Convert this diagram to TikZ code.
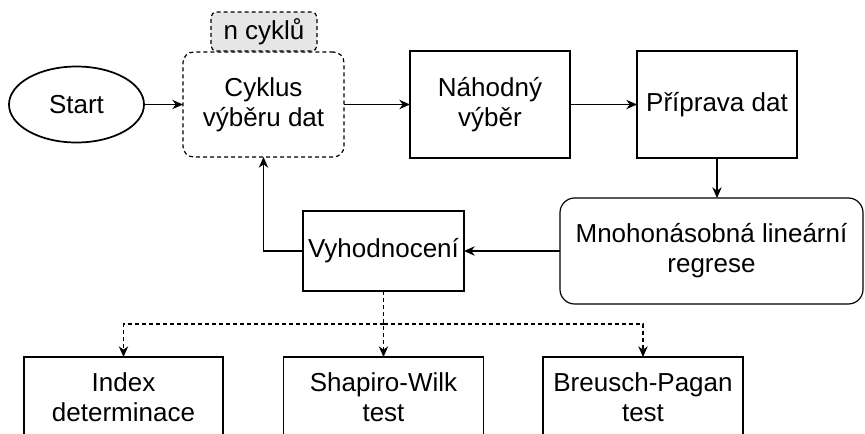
\documentclass[tikz,border=0pt]{standalone}
\usepackage{fontspec}
\setmainfont{Liberation Sans}
\usetikzlibrary{arrows.meta,shapes.geometric}

\tikzset{
  txt/.style={font=\fontsize{19.5}{22.5}\selectfont, align=center, inner sep=0pt, outer sep=0pt},
  box/.style={txt, draw, line width=0.9pt, rectangle},
  roundbox/.style={box, rounded corners=11pt},
  dashbox/.style={box, rounded corners=8pt, dash pattern=on 3pt off 2.25pt},
  tagbox/.style={box, rounded corners=4pt, fill=tagfill, dash pattern=on 3pt off 2.25pt},
  startnode/.style={txt, draw, ellipse, line width=1.3pt},
  flow/.style={line width=0.9pt, -{Stealth[length=8pt,width=7pt,inset=2.5pt]}},
  branch/.style={flow, dash pattern=on 3pt off 2.25pt},
}
\definecolor{tagfill}{HTML}{E6E6E6}

\begin{document}
\begin{tikzpicture}[x=0.75pt, y=-0.75pt]
  \useasboundingbox (0,0) rectangle (865,433);
  \clip (0,0) rectangle (865,433);

  % top row
  \node[startnode, minimum width=101.25pt, minimum height=57pt] (start) at (76.5,104.5) {Start};
  \node[dashbox, minimum width=120.75pt, minimum height=78.75pt] (cyc) at (263.5,104.5) {Cyklus\\výběru dat};
  \node[tagbox, minimum width=79.5pt, minimum height=29.25pt] (ncyc) at (264,31.5) {n cyklů};
  \node[box, minimum width=120pt, minimum height=80.25pt] (nah) at (490,104.5) {Náhodný\\výběr};
  \node[box, minimum width=120pt, minimum height=80.25pt] (prip) at (717,104.5) {Příprava dat};

  % middle row
  \node[roundbox, minimum width=227.25pt, minimum height=79.5pt] (mlr) at (711.5,251) {Mnohonásobná lineární\\regrese};
  \node[box, minimum width=120.75pt, minimum height=60pt] (vyh) at (383.5,251) {Vyhodnocení};

  % bottom row
  \node[box, minimum width=149.25pt, minimum height=60pt] (idx) at (123.5,397) {Index\\determinace};
  \node[box, minimum width=150pt, minimum height=60pt] (shw) at (383.5,397) {Shapiro-Wilk\\test};
  \node[box, minimum width=150pt, minimum height=60pt] (bp) at (643,397) {Breusch-Pagan\\test};

  % main flow
  \draw[flow] (start.east) -- (cyc.west);
  \draw[flow] (cyc.east) -- (nah.west);
  \draw[flow] (nah.east) -- (prip.west);
  \draw[flow] (prip.south) -- (mlr.north -| prip.south);
  \draw[flow] (mlr.west) -- (vyh.east);
  \draw[flow] (vyh.west) -| (cyc.south);

  % evaluation branches
  \coordinate (split) at (383.5,324);
  \draw[branch] (vyh.south) -- (shw.north);
  \draw[branch] (split) -| (idx.north);
  \draw[branch] (split) -| (bp.north);
\end{tikzpicture}
\end{document}
